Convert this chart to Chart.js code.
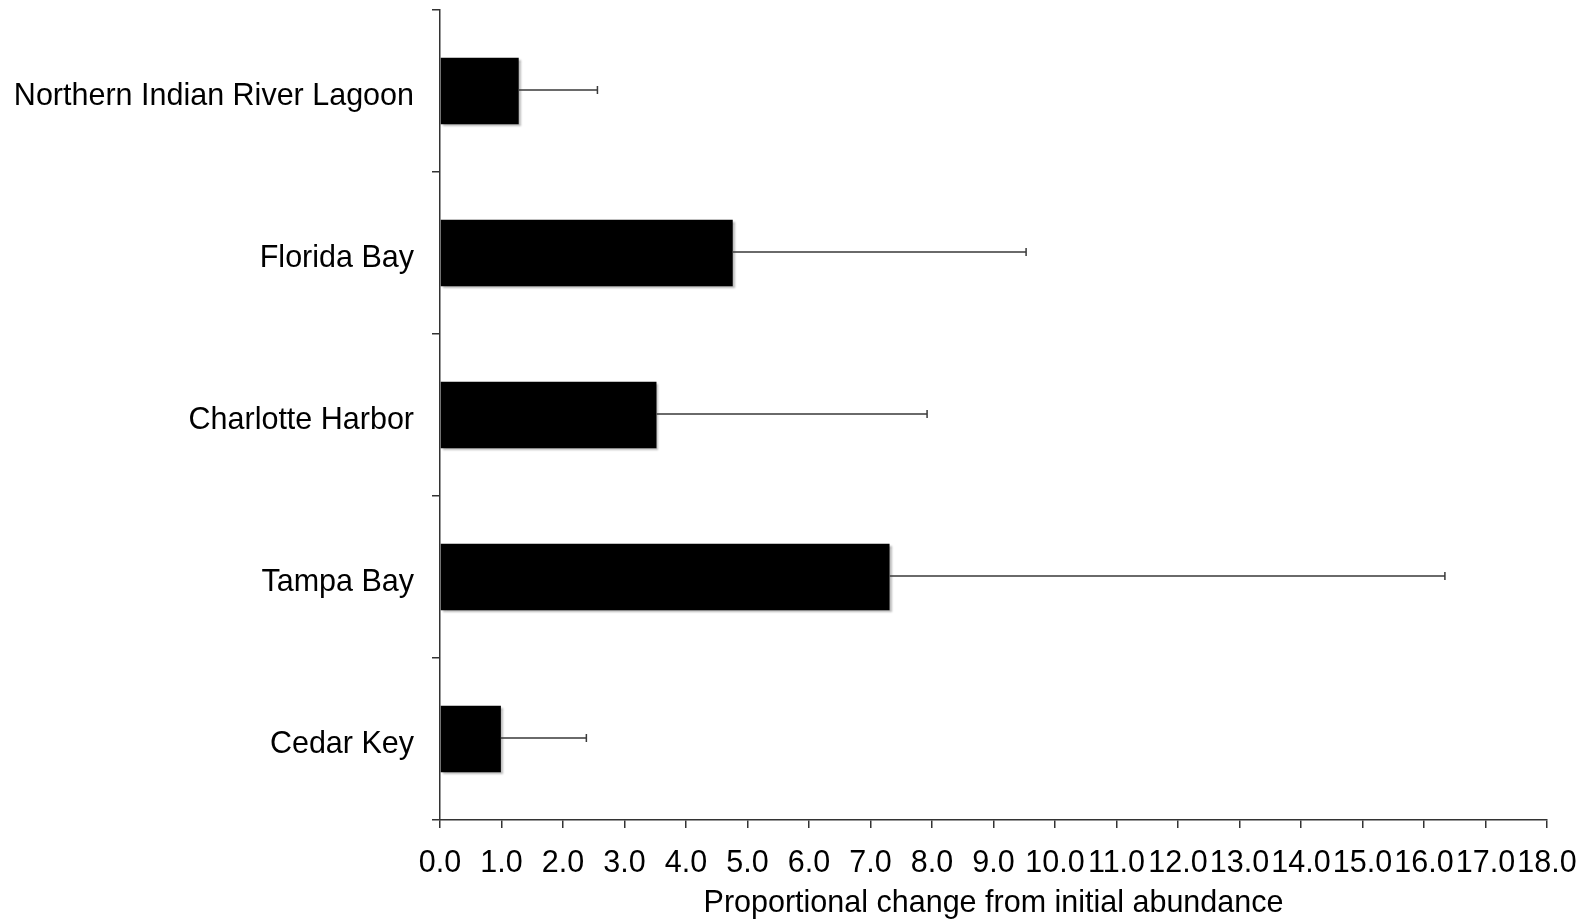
<!DOCTYPE html>
<html>
<head>
<meta charset="utf-8">
<script src="https://cdn.jsdelivr.net/npm/chart.js@4"></script>
<style>
    html, body { margin: 0; padding: 0; background: #fff; }
    #wrap { width: 1587px; height: 920px; }
</style>
</head>
<body>
<div id="wrap"><canvas id="abundanceChart" width="1587" height="920"></canvas></div>
<script>
const sites = ["Northern Indian River Lagoon", "Florida Bay", "Charlotte Harbor", "Tampa Bay", "Cedar Key"];
const meanChange = [1.28, 4.76, 3.52, 7.31, 0.99];
const errorTop = [2.56, 9.53, 7.92, 16.34, 2.38];
const xTicks = [0, 1, 2, 3, 4, 5, 6, 7, 8, 9, 10, 11, 12, 13, 14, 15, 16, 17, 18];

const FONT = "'Liberation Sans', Arial, Helvetica, sans-serif";
const FONT_SIZE = 30.5;

// soft grey shadow under the bars
const barShadow = {
    id: "barShadow",
    beforeDatasetDraw(chart) {
        const ctx = chart.ctx;
        ctx.save();
        ctx.shadowColor = "rgba(0,0,0,0.28)";
        ctx.shadowOffsetX = 2;
        ctx.shadowOffsetY = 2;
        ctx.shadowBlur = 2;
    },
    afterDatasetDraw(chart) {
        chart.ctx.restore();
    }
};

// one-sided error bars
const errorBars = {
    id: "errorBars",
    afterDatasetsDraw(chart) {
        const ctx = chart.ctx;
        const x = chart.scales.x;
        const meta = chart.getDatasetMeta(0);
        ctx.save();
        ctx.strokeStyle = "#3a3a3a";
        ctx.lineWidth = 1.5;
        meta.data.forEach((bar, i) => {
            const x0 = x.getPixelForValue(meanChange[i]);
            const x1 = x.getPixelForValue(errorTop[i]);
            const y = bar.y - 1;
            ctx.beginPath();
            ctx.moveTo(x0, y);
            ctx.lineTo(x1, y);
            ctx.moveTo(x1, y - 4);
            ctx.lineTo(x1, y + 4);
            ctx.stroke();
        });
        ctx.restore();
    }
};

new Chart(document.getElementById("abundanceChart"), {
    type: "bar",
    data: {
        labels: sites,
        datasets: [{
            data: meanChange,
            backgroundColor: "#000",
            borderWidth: 0,
            barPercentage: 0.41,
            categoryPercentage: 1
        }]
    },
    options: {
        indexAxis: "y",
        responsive: false,
        animation: false,
        layout: { padding: { top: 10, right: 40, bottom: 0, left: 0 } },
        plugins: {
            legend: { display: false },
            tooltip: { enabled: false }
        },
        scales: {
            x: {
                min: 0,
                max: 18,
                afterBuildTicks(scale) {
                    scale.ticks = xTicks.map(v => ({ value: v }));
                },
                afterFit(scale) {
                    scale.height = 100;
                    scale.paddingLeft = 0;
                    scale.paddingRight = 0;
                },
                border: { color: "#333", width: 1.5 },
                grid: { drawOnChartArea: false, color: "#333", lineWidth: 1.5, tickLength: 8 },
                ticks: {
                    autoSkip: false,
                    maxRotation: 0,
                    padding: 17,
                    color: "#000",
                    font: { family: FONT, size: FONT_SIZE },
                    callback: v => Number(v).toFixed(1)
                },
                title: {
                    display: true,
                    text: "Proportional change from initial abundance",
                    color: "#000",
                    font: { family: FONT, size: FONT_SIZE },
                    padding: { top: 0, bottom: -2 }
                }
            },
            y: {
                afterFit(scale) {
                    scale.width = 440;
                    scale.paddingTop = 0;
                    scale.paddingBottom = 0;
                },
                border: { color: "#333", width: 1.5 },
                grid: { drawOnChartArea: false, color: "#333", lineWidth: 1.5, tickLength: 8, offset: true },
                ticks: {
                    padding: 18,
                    labelOffset: 6,
                    color: "#000",
                    font: { family: FONT, size: FONT_SIZE }
                }
            }
        }
    },
    plugins: [barShadow, errorBars]
});
</script>
</body>
</html>
